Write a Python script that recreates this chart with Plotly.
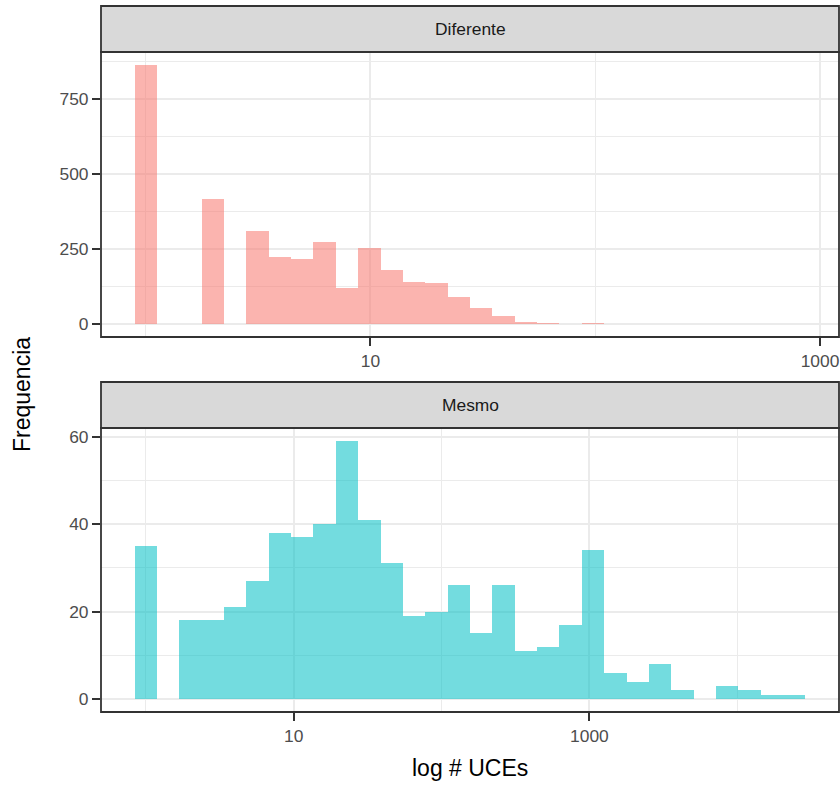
import plotly.graph_objects as go
import numpy as np

# ---------------- data ----------------
panel_names = ["Diferente", "Mesmo"]
# histogram on log10 scale, 30 bins (ggplot default); bin widths in log10 units
bin_width_dif = 0.0995
bin_width_mes = 0.1512
counts_dif = [865, 0, 0, 416, 0, 312, 223, 217, 273, 119, 254, 181, 140, 138, 90,
              53, 28, 7, 2, 0, 2, 0, 0, 0, 0, 0, 0, 0, 0, 1]
counts_mes = [35, 0, 18, 18, 21, 27, 38, 37, 40, 59, 41, 31, 19, 20, 26,
              15, 26, 11, 12, 17, 34, 6, 4, 8, 2, 0, 3, 2, 1, 1]
x_major_log = [1, 3]
x_major_text = ["10", "1000"]
x_minor_dif = [0, 2]
x_minor_mes = [0, 2, 4]
y_major_dif = [0, 250, 500, 750]
y_minor_dif = [125, 375, 625, 875]
y_major_mes = [0, 20, 40, 60]
y_minor_mes = [10, 30, 50]

# ---------------- style ----------------
W, H = 840, 785
FONT = "Liberation Sans, Arial, sans-serif"
fill_dif = "rgba(248,118,109,0.55)"
fill_mes = "rgba(0,191,196,0.55)"
GRID = "#EBEBEB"
BORDER = "#333333"
TICKC = "#4D4D4D"

def px_x(p):
    return p / W

def px_y(p):
    return 1 - p / H

left, right = 101, 839
panels = [
    dict(top=52, bottom=337, strip_top=6),
    dict(top=428, bottom=712, strip_top=382),
]

fig = go.Figure()

datasets = [
    (counts_dif, bin_width_dif, fill_dif, x_minor_dif, y_major_dif, y_minor_dif),
    (counts_mes, bin_width_mes, fill_mes, x_minor_mes, y_major_mes, y_minor_mes),
]

shapes = []
annotations = []
for i, (counts, bw, col, xminor, ymaj, ymin) in enumerate(datasets):
    n = i + 1
    xa = "x" if n == 1 else f"x{n}"
    ya = "y" if n == 1 else f"y{n}"
    centers = np.arange(len(counts)) * bw
    fig.add_trace(go.Bar(
        x=centers, y=counts, width=bw,
        marker=dict(color=col, line=dict(width=0)),
        xaxis=xa, yaxis=ya, showlegend=False,
    ))
    p = panels[i]
    ymax = max(counts)
    axis_common = dict(
        showline=False, zeroline=False, ticks="outside", ticklen=8, tickwidth=2,
        tickcolor=BORDER, tickfont=dict(family=FONT, size=17.4, color=TICKC),
        showgrid=True, gridcolor=GRID, gridwidth=2.2,
    )
    fig.layout[f"xaxis{'' if n == 1 else n}"] = dict(
        domain=[px_x(left), px_x(right)],
        anchor=ya,
        range=[-2 * bw, 31 * bw],
        tickmode="array", tickvals=x_major_log, ticktext=x_major_text,
        minor=dict(tickvals=xminor, showgrid=True, gridcolor=GRID, gridwidth=1.1, ticks=""),
        **axis_common,
    )
    fig.layout[f"yaxis{'' if n == 1 else n}"] = dict(
        domain=[px_y(p["bottom"]), px_y(p["top"])],
        anchor=xa,
        range=[-0.05 * ymax, 1.05 * ymax],
        tickmode="array", tickvals=ymaj,
        minor=dict(tickvals=ymin, showgrid=True, gridcolor=GRID, gridwidth=1.1, ticks=""),
        **axis_common,
    )
    # panel border
    shapes.append(dict(type="rect", xref="paper", yref="paper",
                       x0=px_x(left), x1=px_x(right),
                       y0=px_y(p["bottom"]), y1=px_y(p["top"]),
                       line=dict(color=BORDER, width=1.8), fillcolor="rgba(0,0,0,0)",
                       layer="above"))
    # strip
    shapes.append(dict(type="rect", xref="paper", yref="paper",
                       x0=px_x(left), x1=px_x(right),
                       y0=px_y(p["top"]), y1=px_y(p["strip_top"]),
                       line=dict(color=BORDER, width=1.8), fillcolor="#D9D9D9",
                       layer="above"))
    annotations.append(dict(text=panel_names[i], xref="paper", yref="paper",
                            x=px_x((left + right) / 2),
                            y=px_y((p["top"] + p["strip_top"]) / 2),
                            showarrow=False, xanchor="center", yanchor="middle",
                            font=dict(family=FONT, size=17.4, color="#1A1A1A")))

annotations.append(dict(text="Frequencia", xref="paper", yref="paper",
                        x=px_x(22), y=px_y(395), textangle=-90, showarrow=False,
                        xanchor="center", yanchor="middle",
                        font=dict(family=FONT, size=23, color="black")))
annotations.append(dict(text="log # UCEs", xref="paper", yref="paper",
                        x=px_x(470), y=px_y(768), showarrow=False,
                        xanchor="center", yanchor="middle",
                        font=dict(family=FONT, size=23, color="black")))

fig.update_layout(
    width=W, height=H,
    margin=dict(l=0, r=0, t=0, b=0),
    paper_bgcolor="white", plot_bgcolor="white",
    bargap=0, barmode="overlay",
    shapes=shapes, annotations=annotations,
    font=dict(family=FONT),
)

fig.write_html("out.html",
               config={"displayModeBar": False},
               post_script="document.body.style.margin='0px';document.body.style.overflow='hidden';")
